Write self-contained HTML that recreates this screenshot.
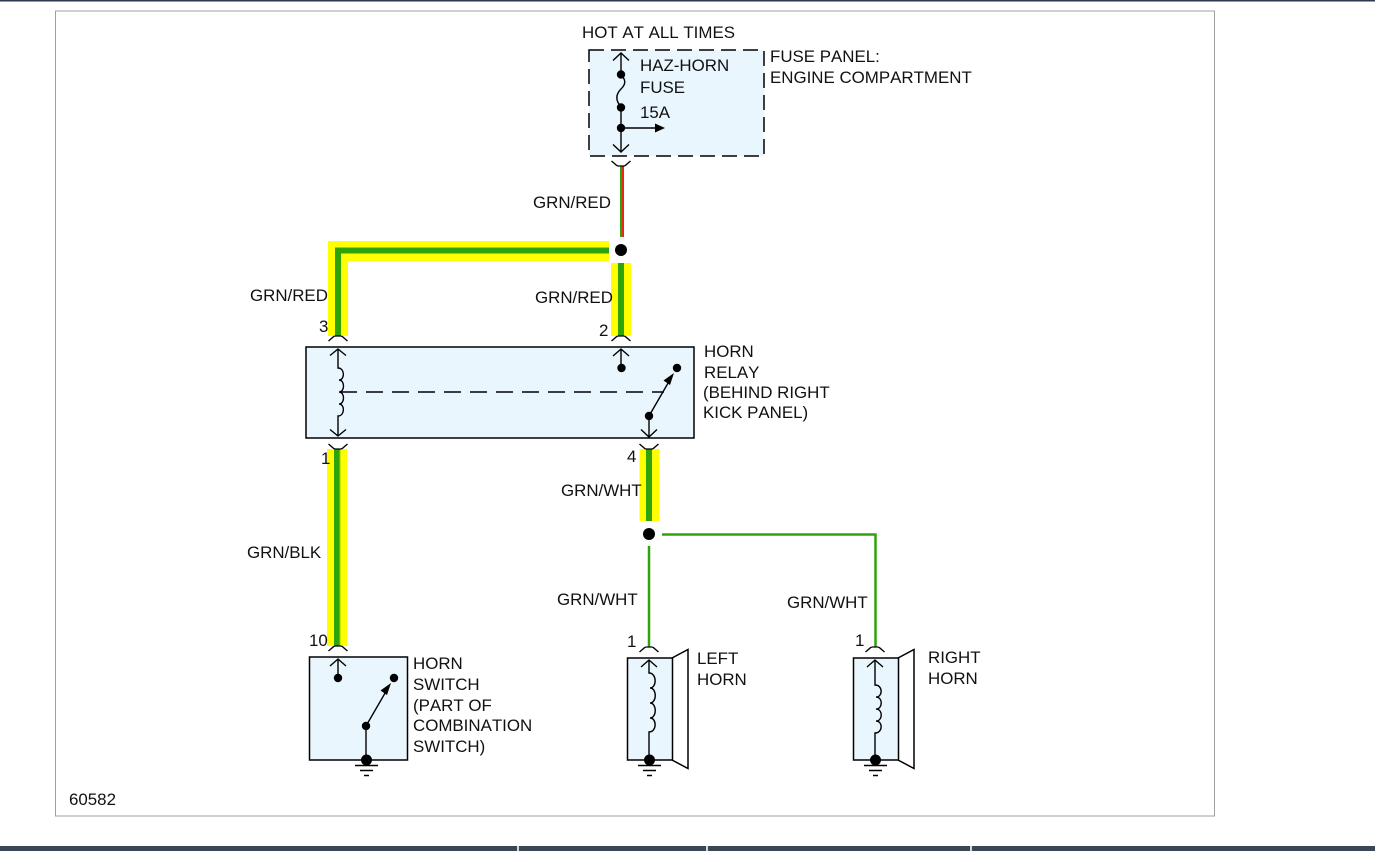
<!DOCTYPE html>
<html><head><meta charset="utf-8"><style>
html,body{margin:0;padding:0;background:#fff;width:1375px;height:851px;overflow:hidden}
svg{display:block}
text{font-family:"Liberation Sans",sans-serif;font-size:16.9px;font-kerning:none;fill:#111}
</style></head><body>
<svg width="1375" height="851" viewBox="0 0 1375 851" xmlns="http://www.w3.org/2000/svg">
<defs>
<g id="gnd" fill="none" stroke="#000" stroke-width="1.400"><path d="M-11.500 5.500H11.500M-6.500 10.500H6.500M-2.500 15.500H2.500"/></g>
<path id="conn" d="M-9.500 -5 L-4.500 -0.700 Q-3.500 0,-2.500 0 H2.500 Q3.500 0,4.500 -0.700 L9.500 -5" fill="none" stroke="#000" stroke-width="1.300"/>
</defs>
<rect width="1375" height="851" fill="#fff"/>
<rect x="0" y="0" width="1375" height="1.500" fill="#2b3a4d"/>
<rect x="55.500" y="11" width="1159" height="805" fill="#fff" stroke="#a0a0a0" stroke-width="1"/>
<rect x="0" y="846" width="1375" height="5" fill="#3a4556"/>
<rect x="517" y="846" width="2" height="5" fill="#d8d8d8"/>
<rect x="706" y="846" width="2" height="5" fill="#d8d8d8"/>
<rect x="970" y="846" width="2" height="5" fill="#d8d8d8"/>

<!-- fills -->
<rect x="589" y="50" width="175" height="106" fill="#eaf6fe"/>
<rect x="589" y="50" width="175" height="106" fill="none" stroke="#000" stroke-width="1.500" stroke-dasharray="15 7"/>
<rect x="306" y="347" width="388" height="91" fill="#eaf6fe" stroke="#000" stroke-width="1.500"/>
<rect x="309.500" y="657" width="98" height="103" fill="#eaf6fe" stroke="#000" stroke-width="1.500"/>
<path d="M672 658L688 649.500V768.500L672 760" fill="#fff" stroke="#000" stroke-width="1.500"/>
<path d="M898 658L914 649.500V768.500L898 760" fill="#fff" stroke="#000" stroke-width="1.500"/>
<rect x="627.500" y="658" width="45" height="102" fill="#eaf6fe" stroke="#000" stroke-width="1.500"/>
<rect x="853.500" y="658" width="45" height="102" fill="#eaf6fe" stroke="#000" stroke-width="1.500"/>

<!-- wires -->
<rect x="620" y="166" width="2" height="71" fill="#2ea40a"/>
<rect x="622" y="166" width="2" height="71" fill="#e8261c"/>

<path d="M609 251H338V336" fill="none" stroke="#ffff00" stroke-width="20"/>
<path d="M609 250.500H338V336" fill="none" stroke="#2ea40a" stroke-width="6"/>
<rect x="611" y="263" width="20" height="73" fill="#ffff00"/><rect x="618" y="263" width="6" height="73" fill="#2ea40a"/>
<rect x="327" y="449" width="20" height="197" fill="#ffff00"/><rect x="334" y="449" width="5.500" height="197" fill="#2ea40a"/><rect x="339.500" y="449" width="1" height="197" fill="#9ad000"/>
<rect x="639.500" y="449" width="20" height="72" fill="#ffff00"/><rect x="646" y="449" width="6" height="72" fill="#2ea40a"/>
<path d="M649 546V647" fill="none" stroke="#2ea40a" stroke-width="2.500"/>
<path d="M662 534.500H875.500V647" fill="none" stroke="#2ea40a" stroke-width="2.500"/>

<!-- junctions -->
<circle cx="621" cy="250" r="6" fill="#000"/>
<circle cx="649" cy="534" r="6" fill="#000"/>

<!-- connectors -->
<use href="#conn" transform="translate(621,166)"/>
<use href="#conn" transform="translate(338,336) scale(1,-1)"/>
<use href="#conn" transform="translate(621,336) scale(1,-1)"/>
<use href="#conn" transform="translate(338,449)"/>
<use href="#conn" transform="translate(649,449)"/>
<use href="#conn" transform="translate(338,646) scale(1,-1)"/>
<use href="#conn" transform="translate(649,647) scale(1,-1)"/>
<use href="#conn" transform="translate(875,647) scale(1,-1)"/>

<g fill="none" stroke="#000" stroke-width="1.400">
<!-- fuse -->
<path d="M621 53V74.500C626 80,626 84,621 89C616 94,615 100,621 107V152"/>
<path d="M613 60.500L621 53L629 60.500M613 144.500L621 152L629 144.500"/>
<path d="M621 128H656"/>
<!-- relay -->
<path d="M338 349V368C345 368,345 380,339 380C345 380,345 392,339 392C345 392,345 404,339 404C345 404,345 416,338 416V436"/>
<path d="M330 355.500L338 349L346 355.500M330 429.500L338 436L346 429.500"/>
<path d="M340 392H664" stroke-dasharray="17 9"/>
<path d="M621 368V349M613 356L621 349L629 356"/>
<path d="M649 416L671 378"/>
<path d="M649 416V437M641 429.500L649 437L657 429.500"/>
<!-- horn switch -->
<path d="M338 678V659M330 666L338 659L346 666"/>
<path d="M366 726L388 688"/>
<path d="M366 726V760"/>
<!-- horns -->
<path d="M649 660V673C657 673,657 688,650 688C657 688,657 703,650 703C657 703,657 718,650 718C657 718,657 732,649 732V760"/>
<path d="M641 667L649 660L657 667"/>
<path d="M875 660V685C883 685,883 697,876 697C883 697,883 709,876 709C883 709,883 721,876 721C883 721,883 733,875 733V760"/>
<path d="M867 667L875 660L883 667"/>
</g>
<g fill="#000">
<circle cx="621" cy="74.500" r="4.200"/><circle cx="621" cy="107.500" r="4.200"/><circle cx="621" cy="128" r="4.200"/>
<path d="M665 128L655 123.500V132.500Z"/>
<circle cx="621.500" cy="368" r="4.200"/><circle cx="677" cy="368" r="4.200"/><circle cx="649" cy="416" r="4.200"/>
<path d="M674 373L663.500 380.500L670 385Z"/>
<circle cx="338" cy="678" r="4.200"/><circle cx="394" cy="678" r="4.200"/><circle cx="366" cy="726" r="4.200"/>
<path d="M391 683L380.500 690.500L387 695Z"/>
<circle cx="366.500" cy="760" r="5.500"/><circle cx="649.500" cy="760" r="5.500"/><circle cx="875.500" cy="760" r="5.500"/>
</g>
<use href="#gnd" transform="translate(366.500,760)"/>
<use href="#gnd" transform="translate(649.500,760)"/>
<use href="#gnd" transform="translate(875.500,760)"/>

<!-- labels -->
<text x="582" y="38">HOT AT ALL TIMES</text>
<text x="770" y="62">FUSE PANEL:</text>
<text x="770" y="83">ENGINE COMPARTMENT</text>
<text x="640" y="71">HAZ-HORN</text>
<text x="640" y="93">FUSE</text>
<text x="640" y="118">15A</text>
<text x="533" y="208">GRN/RED</text>
<text x="250" y="301">GRN/RED</text>
<text x="535" y="303">GRN/RED</text>
<text x="319" y="332">3</text>
<text x="599" y="336">2</text>
<text x="704" y="357">HORN</text>
<text x="704" y="378">RELAY</text>
<text x="703" y="398">(BEHIND RIGHT</text>
<text x="703" y="418">KICK PANEL)</text>
<text x="321" y="464">1</text>
<text x="627" y="462">4</text>
<text x="561" y="496">GRN/WHT</text>
<text x="247" y="558">GRN/BLK</text>
<text x="557" y="605">GRN/WHT</text>
<text x="787" y="608">GRN/WHT</text>
<text x="309" y="646">10</text>
<text x="627" y="647">1</text>
<text x="855" y="646">1</text>
<text x="413" y="669">HORN</text>
<text x="413" y="690">SWITCH</text>
<text x="413" y="711">(PART OF</text>
<text x="413" y="731">COMBINATION</text>
<text x="413" y="752">SWITCH)</text>
<text x="697" y="664">LEFT</text>
<text x="697" y="685">HORN</text>
<text x="928" y="663">RIGHT</text>
<text x="928" y="684">HORN</text>
<text x="69" y="805">60582</text>
</svg>
</body></html>
